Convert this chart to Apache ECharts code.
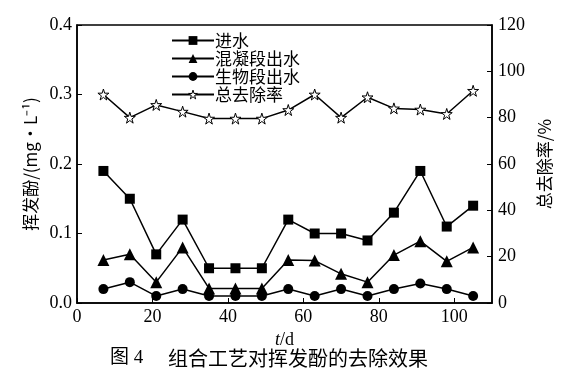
<!DOCTYPE html>
<html>
<head>
<meta charset="utf-8">
<script src="https://cdn.jsdelivr.net/npm/echarts@6/dist/echarts.min.js"></script>
<style>
  html, body { margin: 0; padding: 0; background: #fff; }
  #chart { width: 566px; height: 378px; }
</style>
</head>
<body>
<div id="chart"></div>
<script>
// 时间 (d)
var days = [7, 14, 21, 28, 35, 42, 49, 56, 63, 70, 77, 84, 91, 98, 105];
// 挥发酚浓度 mg/L
var inflow = [0.19, 0.15, 0.07, 0.12, 0.05, 0.05, 0.05, 0.12, 0.10, 0.10, 0.09, 0.13, 0.19, 0.11, 0.14];
var coagOut = [0.062, 0.07, 0.03, 0.08, 0.021, 0.021, 0.021, 0.062, 0.061, 0.042, 0.03, 0.069, 0.089, 0.06, 0.08];
var bioOut = [0.02, 0.03, 0.01, 0.02, 0.01, 0.01, 0.01, 0.02, 0.01, 0.02, 0.01, 0.02, 0.028, 0.02, 0.01];
// 总去除率 %
var removal = [90, 80, 85.5, 82.6, 79.6, 79.6, 79.6, 83.3, 90, 80, 88.8, 84, 83.5, 81.6, 91.6];

var serif = "'Liberation Serif', 'Noto Sans CJK SC', serif";
var cjk = "'Noto Sans CJK SC', 'Liberation Serif', serif";
var star = 'path://M50,0 L61,35 L98,35 L68,57 L79,92 L50,70 L21,92 L32,57 L2,35 L39,35 Z';

function pairs(vals) {
  return days.map(function (d, i) { return [d, vals[i]]; });
}

var chart = echarts.init(document.getElementById('chart'));

var lineStyle = { color: '#000', width: 1.5 };

var option = {
  animation: false,
  backgroundColor: '#fff',
  grid: {
    left: 77, right: 74, top: 25, bottom: 75,
    show: true, borderColor: '#000', borderWidth: 1.5, backgroundColor: 'transparent'
  },
  legend: {
    orient: 'vertical',
    left: 166,
    top: 27,
    itemWidth: 42,
    itemHeight: 11,
    itemGap: 1,
    textStyle: { fontFamily: cjk, fontSize: 17, color: '#000', padding: [0, 0, 0, -4] },
    data: [
      '进水', '混凝段出水', '生物段出水',
      { name: '总去除率', itemStyle: { color: '#fff', borderColor: '#000', borderWidth: 1 } }
    ]
  },
  xAxis: {
    type: 'value',
    min: 0, max: 110, interval: 20,
    name: '{i|t}/d',
    nameLocation: 'middle',
    nameGap: 28,
    nameTextStyle: {
      fontFamily: serif, fontSize: 18, color: '#000',
      rich: { i: { fontFamily: serif, fontSize: 18, fontStyle: 'italic', color: '#000' } }
    },
    axisLine: { lineStyle: { color: '#000', width: 1.5 } },
    axisTick: { inside: true, length: 5, lineStyle: { color: '#000' } },
    axisLabel: { fontFamily: serif, fontSize: 18, color: '#000', margin: 5, showMaxLabel: false },
    splitLine: { show: false }
  },
  yAxis: [
    {
      type: 'value',
      min: 0, max: 0.4, interval: 0.1,
      name: '挥发酚/(mg•L⁻¹)',
      nameLocation: 'middle',
      nameGap: 38,
      nameTextStyle: { fontFamily: cjk, fontSize: 17, color: '#000' },
      axisLine: { show: true, lineStyle: { color: '#000', width: 1.5 } },
      axisTick: { show: true, inside: true, length: 5, lineStyle: { color: '#000' } },
      axisLabel: {
        fontFamily: serif, fontSize: 18, color: '#000', margin: 5,
        formatter: function (v) { return v.toFixed(1); }
      },
      splitLine: { show: false }
    },
    {
      type: 'value',
      min: 0, max: 120, interval: 20,
      name: '总去除率/%',
      nameLocation: 'middle',
      nameRotate: 90,
      nameGap: 33,
      nameTextStyle: { fontFamily: cjk, fontSize: 17, color: '#000' },
      axisLine: { show: true, lineStyle: { color: '#000', width: 1.5 } },
      axisTick: { show: true, inside: true, length: 5, lineStyle: { color: '#000' } },
      axisLabel: { fontFamily: serif, fontSize: 18, color: '#000', margin: 6 },
      splitLine: { show: false }
    }
  ],
  graphic: [
    {
      type: 'text', left: 110, top: 349,
      style: { text: '图 4', font: "19px 'Liberation Serif', 'Noto Sans CJK SC'", fill: '#000' }
    },
    {
      type: 'text', left: 168, top: 348,
      style: { text: '组合工艺对挥发酚的去除效果', font: "20px 'Noto Sans CJK SC'", fill: '#000' }
    }
  ],
  series: [
    {
      name: '进水', type: 'line', yAxisIndex: 0,
      data: pairs(inflow),
      symbol: 'rect', symbolSize: 10,
      itemStyle: { color: '#000' },
      lineStyle: lineStyle
    },
    {
      name: '混凝段出水', type: 'line', yAxisIndex: 0,
      data: pairs(coagOut),
      symbol: 'triangle', symbolSize: 12,
      itemStyle: { color: '#000' },
      lineStyle: lineStyle
    },
    {
      name: '生物段出水', type: 'line', yAxisIndex: 0,
      data: pairs(bioOut),
      symbol: 'circle', symbolSize: 10,
      itemStyle: { color: '#000' },
      lineStyle: lineStyle
    },
    {
      name: '总去除率', type: 'line', yAxisIndex: 1,
      data: pairs(removal),
      symbol: star,
      symbolSize: 11,
      itemStyle: { color: '#fff', borderColor: '#000', borderWidth: 1 },
      lineStyle: lineStyle
    }
  ]
};

chart.setOption(option);
</script>
</body>
</html>
